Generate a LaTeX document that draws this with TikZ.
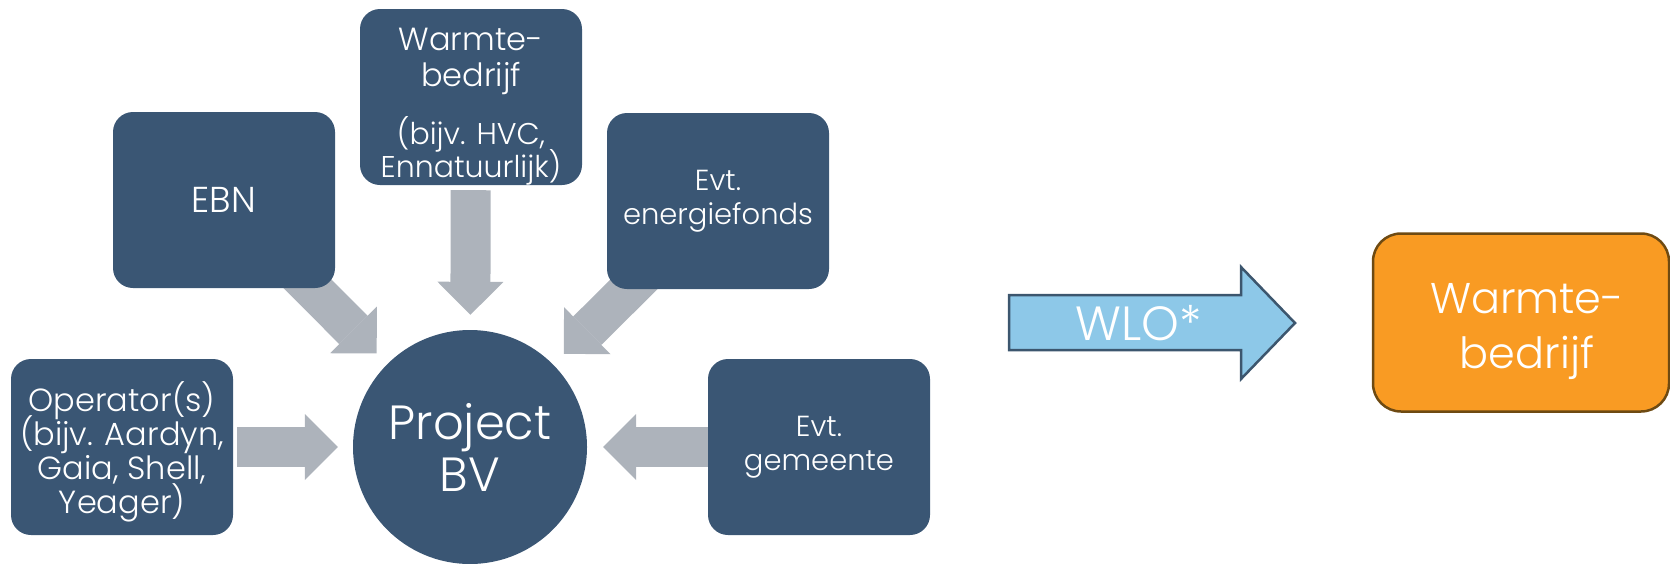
\documentclass[tikz,border=0pt]{standalone}
\usepackage{fontspec}
\setmainfont{Poppins Light}
\usetikzlibrary{arrows.meta,calc,backgrounds}
\definecolor{navy}{RGB}{58,86,116}
\definecolor{garrowc}{RGB}{173,179,187}
\definecolor{lblue}{RGB}{141,200,232}
\definecolor{wloborder}{RGB}{60,86,110}
\definecolor{orangef}{RGB}{249,155,35}
\definecolor{orangeb}{RGB}{110,74,18}
% #1 raise of first baseline above centre, #2 font size, #3 line pitch, #4 lines
\newcommand{\txtstack}[4]{\raisebox{#1}[0pt][0pt]{\fontsize{#2}{#3}\selectfont
  \begin{tabular}[t]{@{}c@{}}#4\end{tabular}}}
\tikzset{
  box/.style={fill=navy, rounded corners=20pt, minimum width=222pt, minimum height=176pt,
    text=white, align=center, inner sep=0pt},
  hub/.style={circle, fill=navy, minimum size=234pt, text=white, align=center, inner sep=0pt,
    font={\fontsize{48pt}{52pt}\selectfont}},
  garrow/.style={draw=garrowc, line width=40pt, -{Triangle[length=33pt,width=66pt,line width=0pt]}},
  wloshape/.style={fill=lblue, draw=wloborder, line width=2.5pt, line join=miter},
  obox/.style={fill=orangef, draw=orangeb, line width=2.5pt, rounded corners=28pt,
    minimum width=296pt, minimum height=178pt, text=white, align=center, inner sep=0pt},
  febn/.style={font={\fontsize{36pt}{40pt}\selectfont}},
  fsmall/.style={font={\fontsize{29pt}{34pt}\selectfont}},
}
\begin{document}
\begin{tikzpicture}[x=1pt,y=-1pt]
\useasboundingbox (0,0) rectangle (1670,563);
\clip (0,0) rectangle (1670,563);

\node[box] (op) at (122,447)
  {\txtstack{36pt}{32pt}{34pt}{\smash{Operator(s)}\\\smash{(bijv. Aardyn,}\\\smash{Gaia, Shell,}\\\smash{Yeager)}}};
\node[box, febn] (ebn) at (224,200) {EBN};
\node[box] (wb) at (471,97)
  {\txtstack{47pt}{32pt}{36pt}{\smash{Warmte-}\\\smash{bedrijf}\\[22pt]%
   \fontsize{30pt}{34pt}\selectfont\smash{(bijv. HVC,}\\[-3pt]%
   \fontsize{30pt}{34pt}\selectfont\smash{Ennatuurlijk)}}};
\node[box, fsmall] (ef) at (718,201) {Evt.\\energiefonds};
\node[box, fsmall] (gem) at (819,447) {Evt.\\gemeente};
\node[hub] (pbv) at (470,447) {Project\\BV};

\begin{scope}[on background layer]
\draw[garrow, shorten <=93pt, shorten >=15pt] (ebn.center) -- (pbv);
\draw[garrow, shorten <=93pt, shorten >=15pt] (ef.center) -- (pbv);
\draw[garrow, shorten <=5pt, shorten >=15pt] (wb) -- (pbv);
\draw[garrow, shorten <=4pt, shorten >=15pt] (op) -- (pbv);
\draw[garrow, shorten >=16pt] (gem) -- (pbv);
\end{scope}

\draw[wloshape] (1009,295) -- (1241,295) -- (1241,267) -- (1295,323) -- (1241,379)
  -- (1241,350) -- (1009,350) -- cycle;
\node[text=white, font={\fontsize{48pt}{52pt}\selectfont}] (wlo) at (1139,323) {WLO*};

\node[obox] (whb) at (1521,322.5)
  {\hspace*{12pt}\txtstack{9.5pt}{43pt}{55pt}{\smash{Warmte-}\\\smash{bedrijf}}};
\end{tikzpicture}
\end{document}
